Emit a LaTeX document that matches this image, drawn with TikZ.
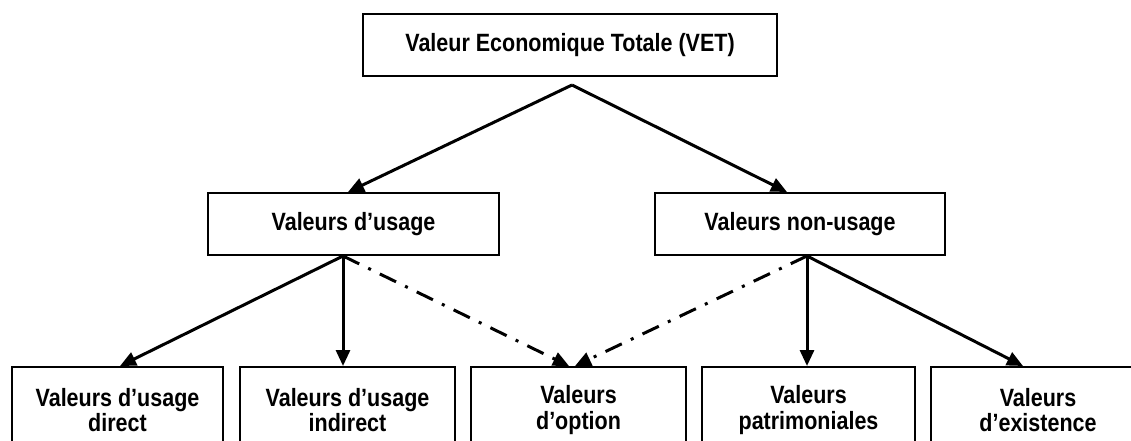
\documentclass[tikz,border=0pt]{standalone}
\usepackage{fontspec}
\setmainfont{Liberation Sans}
\newfontfamily\narrowbold[FakeStretch=0.86]{Liberation Sans}
\usetikzlibrary{arrows.meta}
\tikzset{
  box/.style={draw=black, line width=2pt, rectangle, inner sep=0pt, align=center,
    font=\narrowbold\fontsize{25}{25.5}\selectfont\bfseries},
  conn/.style={line width=3pt, -{Triangle[length=16pt,width=14pt]}},
  dashdot/.style={conn, dash pattern=on 18pt off 10pt on 3pt off 10pt},
}
\begin{document}
\begin{tikzpicture}[x=1pt,y=-1pt]
\clip (0,0) rectangle (1131,441);
\fill[white] (0,0) rectangle (1131,441);
% top
\node[box, minimum width=414pt, minimum height=62pt] (vet) at (570,45) {Valeur Economique Totale (VET)};
% middle
\node[box, minimum width=291pt, minimum height=62pt] (usage) at (353.5,224) {Valeurs d’usage};
\node[box, minimum width=290pt, minimum height=62pt] (nonusage) at (800,224) {Valeurs non-usage};
% bottom
\node[box, minimum width=211pt, minimum height=86pt] (direct) at (117.5,410) {Valeurs d’usage\\direct};
\node[box, minimum width=215pt, minimum height=86pt] (indirect) at (347.5,410) {Valeurs d’usage\\indirect};
\node[box, minimum width=215pt, minimum height=86pt] (option) at (578.5,410) {Valeurs\\d’option};
\node[box, minimum width=213pt, minimum height=86pt] (patri) at (808.5,410) {Valeurs\\patrimoniales};
\node[box, minimum width=214pt, minimum height=86pt] (exist) at (1038,410) {Valeurs\\d’existence};
% branch points
\coordinate (vetout) at ([xshift=2pt,yshift=-8pt]vet.south);
\coordinate (usageout) at ([xshift=-10.5pt]usage.south);
\coordinate (nonusageout) at ([xshift=7pt]nonusage.south);
% connectors
\draw[conn] (vetout) -- ([xshift=-5.5pt]usage.north);
\draw[conn] (vetout) -- ([xshift=-13pt]nonusage.north);
\draw[conn] (usageout) -- ([xshift=2.5pt]direct.north);
\draw[conn] (usageout) -- ([xshift=-4.5pt]indirect.north);
\draw[dashdot] (usageout) -- ([xshift=-9.5pt]option.north);
\draw[dashdot] (nonusageout) -- ([xshift=-3.5pt]option.north);
\draw[conn] (nonusageout) -- ([xshift=-1.5pt]patri.north);
\draw[conn] (nonusageout) -- ([xshift=-15pt]exist.north);
\end{tikzpicture}
\end{document}
